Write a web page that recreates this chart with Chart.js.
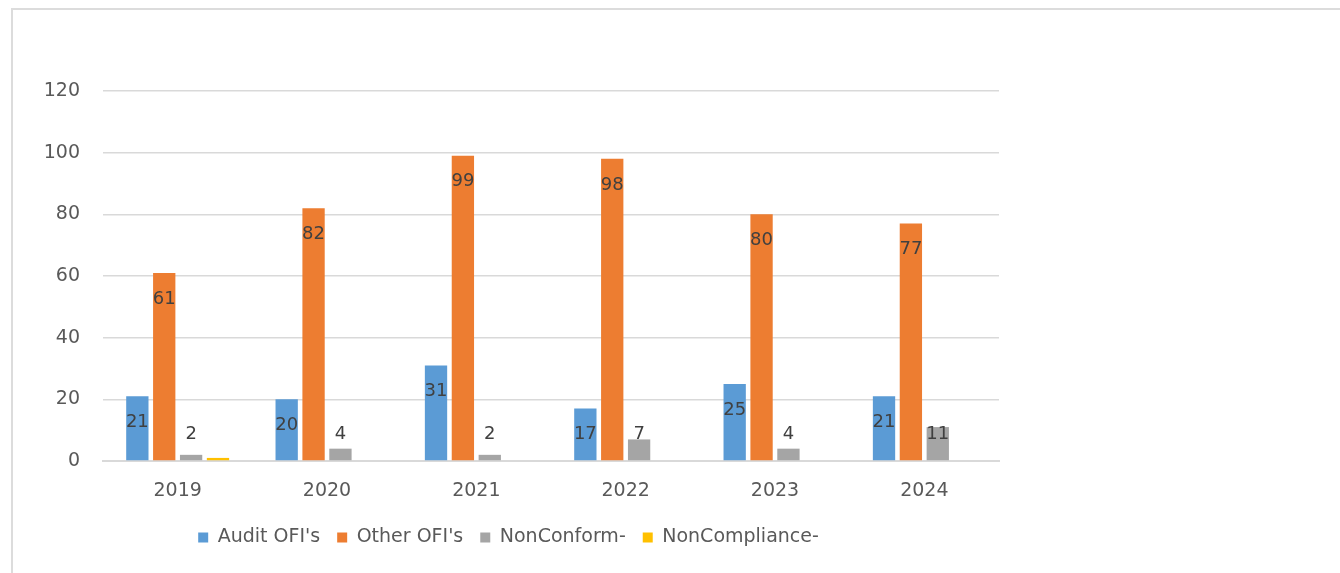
<!DOCTYPE html>
<html>
<head>
<meta charset="utf-8">
<title>OFI and NonConformance by year</title>
<script src="https://cdn.jsdelivr.net/npm/chart.js@4.4.1/dist/chart.umd.min.js"></script>
<style>
  html, body { margin: 0; padding: 0; background: #ffffff; }
  #wrap { position: relative; width: 1340px; height: 573px; overflow: hidden; }
  #frame {
    position: absolute; left: 11px; top: 8px; width: 1400px; height: 700px;
    border-top: 2px solid #dcdcdc; border-left: 2px solid #dcdcdc;
  }
  #chart { position: absolute; left: 0; top: 0; }
</style>
</head>
<body>
<div id="wrap">
  <div id="frame"></div>
  <canvas id="chart" width="1340" height="573"></canvas>
</div>
<script>
// Years on the category axis
const years = ['2019', '2020', '2021', '2022', '2023', '2024'];

// Counts per year for each series
const auditOFIs = [21, 20, 31, 17, 25, 21];
const otherOFIs = [61, 82, 99, 98, 80, 77];
const nonConform = [2, 4, 2, 7, 4, 11];
const nonCompliance = [1, 0, 0, 0, 0, 0];

// Value axis ticks
const yTicks = [0, 20, 40, 60, 80, 100, 120];

const FONT = 'DejaVu Sans';

// Writes each bar's value near its top, kept clear of the baseline
const barValueLabels = {
  id: 'barValueLabels',
  afterDatasetsDraw(chart) {
    const ctx = chart.ctx;
    const base = chart.scales.y.getPixelForValue(0);
    ctx.save();
    ctx.font = '18px "' + FONT + '"';
    ctx.fillStyle = '#404040';
    ctx.textAlign = 'center';
    ctx.textBaseline = 'middle';
    chart.data.datasets.forEach((ds, i) => {
      if (!ds.showValues) return;
      chart.getDatasetMeta(i).data.forEach((bar, j) => {
        const y = Math.min(bar.y + 26, base - 27);
        ctx.fillText(String(ds.data[j]), bar.x, y);
      });
    });
    ctx.restore();
  }
};

new Chart(document.getElementById('chart'), {
  type: 'bar',
  data: {
    labels: years,
    datasets: [
      { label: "Audit OFI's", data: auditOFIs, backgroundColor: '#5B9BD5', showValues: true },
      { label: "Other OFI's", data: otherOFIs, backgroundColor: '#ED7D31', showValues: true },
      { label: 'NonConform-', data: nonConform, backgroundColor: '#A5A5A5', showValues: true },
      { label: 'NonCompliance-', data: nonCompliance, backgroundColor: '#FFC000', showValues: false }
    ]
  },
  options: {
    responsive: false,
    animation: false,
    devicePixelRatio: 1,
    datasets: { bar: { categoryPercentage: 0.72, barPercentage: 0.83 } },
    layout: { padding: { left: 18, right: 341, top: 91, bottom: 16 } },
    plugins: {
      tooltip: { enabled: false },
      legend: {
        position: 'bottom',
        labels: {
          font: { family: FONT, size: 19 },
          color: '#595959',
          boxWidth: 10,
          boxHeight: 10,
          padding: 17
        }
      }
    },
    scales: {
      x: {
        afterFit: (scale) => { scale.height = 50; },
        grid: { display: false, drawTicks: false },
        border: { display: true, color: '#d9d9d9', width: 2 },
        ticks: { font: { family: FONT, size: 19 }, color: '#595959', padding: 19 }
      },
      y: {
        min: 0,
        max: 120,
        afterBuildTicks: (scale) => { scale.ticks = yTicks.map(v => ({ value: v })); },
        afterFit: (scale) => { scale.width = 85; },
        grid: { color: '#d9d9d9', lineWidth: 1.5, drawTicks: false },
        border: { display: false },
        ticks: { font: { family: FONT, size: 19 }, color: '#595959', padding: 23 }
      }
    }
  },
  plugins: [barValueLabels]
});
</script>
</body>
</html>
